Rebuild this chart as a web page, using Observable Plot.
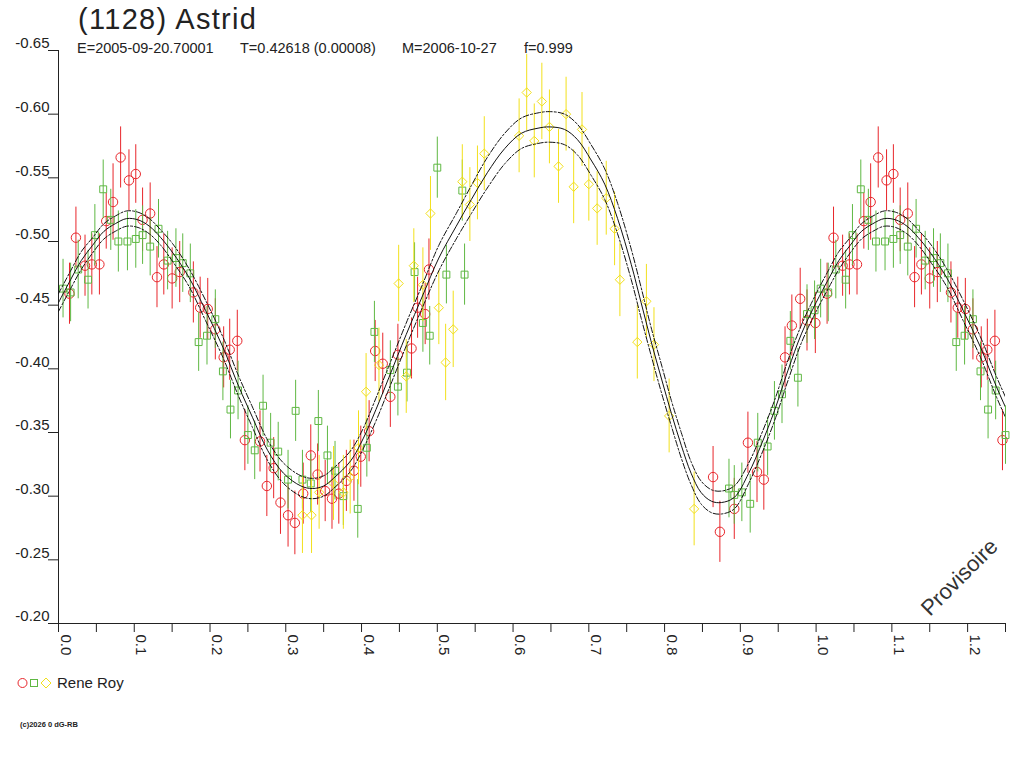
<!DOCTYPE html>
<html>
<head>
<meta charset="utf-8">
<script src="https://cdn.jsdelivr.net/npm/d3@7"></script>
<script src="https://cdn.jsdelivr.net/npm/@observablehq/plot@0.6"></script>
<style>
html, body { margin: 0; padding: 0; background: #fff; overflow: hidden; }
#wrap { position: relative; width: 1024px; height: 768px; font-family: "Liberation Sans", Arial, sans-serif; color: #222; }
#chart { position: absolute; left: 0; top: 0; }
.abs { position: absolute; white-space: pre; line-height: 1; }
</style>
</head>
<body>
<div id="wrap">
  <div id="chart"></div>
  <div class="abs" id="title" style="left:78px; top:5px; font-size:29px; letter-spacing:1.3px;"></div>
  <div id="sub"></div>
  <div class="abs" id="legend" style="left:0px; top:674px; height:18px; width:200px;"></div>
  <div class="abs" id="footer" style="left:20px; top:721px; font-size:7.5px; font-weight:bold;"></div>
</div>
<script>
// ---- texts ----
const titleText = "(1128) Astrid";
const subtitleParts = ["E=2005-09-20.70001", "T=0.42618 (0.00008)", "M=2006-10-27", "f=0.999"];
const subtitleX = [77, 240, 402, 524];
const legendName = "Rene Roy";
const footerText = "(c)2026 0 dG-RB";
const watermark = "Provisoire";

// ---- axes ----
const xTickValues = [0,0.05,0.1,0.15,0.2,0.25,0.3,0.35,0.4,0.45,0.5,0.55,0.6,0.65,0.7,0.75,0.8,0.85,0.9,0.95,1.0,1.05,1.1,1.15,1.2,1.25];
const xLabelValues = [0,0.1,0.2,0.3,0.4,0.5,0.6,0.7,0.8,0.9,1.0,1.1,1.2];
const xLabels = ["0.0","0.1","0.2","0.3","0.4","0.5","0.6","0.7","0.8","0.9","1.0","1.1","1.2"];
const yTickValues = [-0.65,-0.60,-0.55,-0.50,-0.45,-0.40,-0.35,-0.30,-0.25,-0.20];
const yLabels = ["-0.65","-0.60","-0.55","-0.50","-0.45","-0.40","-0.35","-0.30","-0.25","-0.20"];

// ---- observations (phase, magnitude, error) ----
const redPhase = [0.0145,0.023,0.035,0.044,0.054,0.063,0.072,0.082,0.093,0.102,0.111,0.121,0.130,0.139,0.150,0.160,0.178,0.187,0.197,0.207,0.218,0.226,0.236,0.246,0.266,0.275,0.284,0.293,0.303,0.312,0.323,0.333,0.342,0.352,0.361,0.370,0.380,0.390,0.399,0.410,0.418,0.428,0.438,0.448,0.466,0.474,0.484,0.489,0.864,0.873,0.892,0.910,0.922,0.931,0.959,0.968,0.979,0.988,0.999];
const redMag = [-0.459,-0.503,-0.481,-0.482,-0.482,-0.516,-0.531,-0.566,-0.548,-0.553,-0.517,-0.522,-0.472,-0.482,-0.471,-0.476,-0.460,-0.448,-0.447,-0.431,-0.409,-0.415,-0.422,-0.344,-0.343,-0.308,-0.322,-0.295,-0.285,-0.279,-0.302,-0.332,-0.317,-0.304,-0.298,-0.302,-0.312,-0.320,-0.331,-0.351,-0.414,-0.404,-0.378,-0.411,-0.416,-0.448,-0.443,-0.478,-0.315,-0.272,-0.290,-0.342,-0.319,-0.313,-0.409,-0.434,-0.455,-0.438,-0.436];
const redErr = [0.024,0.024,0.024,0.024,0.024,0.022,0.030,0.024,0.024,0.023,0.025,0.024,0.024,0.024,0.024,0.024,0.024,0.024,0.024,0.024,0.024,0.024,0.024,0.024,0.024,0.024,0.024,0.025,0.025,0.025,0.024,0.024,0.024,0.024,0.024,0.024,0.024,0.024,0.024,0.024,0.024,0.024,0.024,0.024,0.024,0.024,0.024,0.024,0.024,0.024,0.024,0.024,0.024,0.024,0.024,0.024,0.024,0.024,0.024];

const greenPhase = [0.006,0.016,0.026,0.039,0.048,0.059,0.069,0.079,0.091,0.102,0.111,0.121,0.132,0.144,0.155,0.164,0.174,0.185,0.196,0.207,0.217,0.227,0.237,0.250,0.259,0.270,0.280,0.290,0.303,0.313,0.322,0.333,0.343,0.355,0.365,0.376,0.395,0.407,0.417,0.438,0.448,0.460,0.470,0.481,0.490,0.500,0.512,0.533,0.536,0.885,0.892,0.902,0.913,0.923,0.936,0.945,0.955,0.966,0.976,0.988,0.998];
const greenMag = [-0.463,-0.460,-0.478,-0.470,-0.505,-0.541,-0.517,-0.500,-0.500,-0.502,-0.505,-0.496,-0.510,-0.485,-0.487,-0.483,-0.475,-0.421,-0.426,-0.439,-0.398,-0.368,-0.383,-0.348,-0.336,-0.371,-0.342,-0.335,-0.313,-0.367,-0.313,-0.310,-0.359,-0.332,-0.320,-0.300,-0.290,-0.338,-0.429,-0.399,-0.386,-0.397,-0.476,-0.436,-0.426,-0.558,-0.474,-0.540,-0.474,-0.306,-0.301,-0.303,-0.294,-0.342,-0.339,-0.367,-0.380,-0.422,-0.393,-0.443,-0.446];
const greenErr = [0.023,0.023,0.023,0.023,0.024,0.023,0.024,0.024,0.023,0.023,0.023,0.023,0.023,0.023,0.023,0.023,0.023,0.023,0.023,0.023,0.023,0.023,0.023,0.023,0.023,0.024,0.023,0.023,0.023,0.024,0.023,0.023,0.024,0.023,0.023,0.023,0.023,0.023,0.024,0.023,0.023,0.023,0.023,0.023,0.023,0.024,0.023,0.024,0.024,0.023,0.023,0.023,0.023,0.023,0.023,0.023,0.023,0.023,0.023,0.023,0.023];

const yellowPhase = [0.322,0.334,0.344,0.363,0.376,0.385,0.396,0.406,0.423,0.449,0.459,0.469,0.481,0.491,0.502,0.511,0.521,0.533,0.543,0.553,0.562,0.608,0.618,0.628,0.638,0.648,0.660,0.670,0.680,0.691,0.700,0.711,0.723,0.734,0.741,0.764,0.776,0.786,0.806,0.839];
const yellowMag = [-0.285,-0.285,-0.303,-0.310,-0.303,-0.315,-0.338,-0.382,-0.403,-0.467,-0.394,-0.481,-0.466,-0.522,-0.448,-0.405,-0.431,-0.547,-0.529,-0.546,-0.569,-0.583,-0.617,-0.579,-0.610,-0.590,-0.559,-0.600,-0.543,-0.588,-0.545,-0.526,-0.534,-0.510,-0.470,-0.421,-0.453,-0.419,-0.363,-0.290];
const yellowErr = [0.030,0.030,0.029,0.029,0.029,0.029,0.029,0.030,0.029,0.030,0.029,0.029,0.029,0.029,0.029,0.030,0.030,0.029,0.029,0.029,0.029,0.029,0.030,0.029,0.030,0.029,0.029,0.029,0.029,0.029,0.029,0.029,0.029,0.029,0.029,0.029,0.029,0.029,0.029,0.029];

// ---- fitted lightcurve (phase, mag, envelope half-width) ----
const fitPhase = [0.000,0.016,0.030,0.045,0.060,0.075,0.090,0.105,0.120,0.135,0.151,0.172,0.194,0.217,0.238,0.256,0.276,0.297,0.320,0.335,0.350,0.363,0.386,0.402,0.419,0.436,0.459,0.481,0.502,0.525,0.545,0.566,0.589,0.611,0.633,0.648,0.668,0.685,0.703,0.721,0.738,0.756,0.769,0.782,0.796,0.809,0.822,0.835,0.848,0.862,0.875,0.892,0.911,0.928,0.945,0.963,0.981,1.000];
const fitMag = [-0.452,-0.470,-0.485,-0.497,-0.508,-0.514,-0.518,-0.517,-0.512,-0.503,-0.491,-0.472,-0.446,-0.417,-0.386,-0.362,-0.336,-0.318,-0.308,-0.306,-0.308,-0.314,-0.328,-0.345,-0.368,-0.393,-0.427,-0.458,-0.487,-0.512,-0.533,-0.554,-0.573,-0.585,-0.589,-0.590,-0.588,-0.580,-0.564,-0.545,-0.518,-0.482,-0.452,-0.422,-0.392,-0.365,-0.340,-0.318,-0.303,-0.296,-0.295,-0.299,-0.318,-0.341,-0.367,-0.399,-0.428,-0.452];
const fitSpread = [0.007,0.007,0.007,0.006,0.006,0.006,0.006,0.006,0.006,0.006,0.007,0.007,0.008,0.008,0.008,0.008,0.008,0.008,0.008,0.008,0.008,0.008,0.008,0.008,0.009,0.009,0.009,0.009,0.010,0.010,0.011,0.012,0.012,0.012,0.012,0.012,0.012,0.012,0.012,0.012,0.012,0.012,0.012,0.011,0.011,0.010,0.010,0.009,0.009,0.009,0.009,0.009,0.008,0.008,0.008,0.008,0.007,0.007];

// ---- colours ----
const red = "#e8262b", green = "#5fb843", yellow = "#f2e01c";

// ---- build tables (phase repeated past 1.0 up to 1.25) ----
function obsRows(phase, mag, err) {
  const out = [];
  phase.forEach((p, i) => {
    const d = {phase: p, mag: mag[i], err: err[i]};
    out.push(d);
    if (p <= 0.25) out.push({phase: p + 1, mag: mag[i], err: err[i]});
  });
  return out;
}
const redRows = obsRows(redPhase, redMag, redErr);
const greenRows = obsRows(greenPhase, greenMag, greenErr);
const yellowRows = obsRows(yellowPhase, yellowMag, yellowErr);

const fitRows = [];
fitPhase.forEach((p, i) => fitRows.push({phase: p, mag: fitMag[i], s: fitSpread[i]}));
fitPhase.forEach((p, i) => { if (p > 0 && p < 0.3) fitRows.push({phase: p + 1, mag: fitMag[i], s: fitSpread[i]}); });
fitRows.sort((a, b) => a.phase - b.phase);

const squareSym = {draw(ctx, size) { const h = Math.sqrt(size) / 2; ctx.moveTo(-h, -h); ctx.lineTo(h, -h); ctx.lineTo(h, h); ctx.lineTo(-h, h); ctx.closePath(); }};
const diamondSym = {draw(ctx, size) { const h = Math.sqrt(size / 2); ctx.moveTo(0, -h); ctx.lineTo(h, 0); ctx.lineTo(0, h); ctx.lineTo(-h, 0); ctx.closePath(); }};

function obsMarks(rows, color, symbol, r) {
  return [
    Plot.ruleX(rows, {x: "phase", y1: d => d.mag - d.err, y2: d => d.mag + d.err, stroke: color, strokeWidth: 1}),
    Plot.dot(rows, {x: "phase", y: "mag", symbol, r, stroke: color, fill: "none", strokeWidth: 1})
  ];
}

const yTickRows = yTickValues.map((v, i) => ({v, t: yLabels[i]}));
const xLabelRows = xLabelValues.map((v, i) => ({v, t: xLabels[i]}));

const chart = Plot.plot({
  width: 1024,
  height: 768,
  marginLeft: 58,
  marginRight: 19,
  marginTop: 50,
  marginBottom: 145,
  x: {domain: [0, 1.25]},
  y: {domain: [-0.20, -0.65]},
  style: {fontFamily: '"Liberation Sans", Arial, sans-serif', fontSize: "15px", color: "#222", background: "#fff"},
  marks: [
    Plot.ruleX([0], {stroke: "#222"}),
    Plot.ruleY([-0.20], {stroke: "#222"}),
    Plot.axisX({ticks: xTickValues, tickSize: 9, tickFormat: () => "", label: null, stroke: "#222"}),
    Plot.axisY({ticks: yTickValues, tickSize: 10, tickFormat: () => "", label: null, stroke: "#222"}),
    Plot.text(yTickRows, {y: "v", text: "t", frameAnchor: "left", dx: -9, dy: -7, textAnchor: "end", fontSize: 15, fill: "#222"}),
    Plot.text(xLabelRows, {x: "v", text: "t", frameAnchor: "bottom", dy: 11, dx: 7, rotate: 90, textAnchor: "start", lineAnchor: "middle", fontSize: 15, fill: "#222"}),
    Plot.text([watermark], {frameAnchor: "bottom-right", dx: -46, dy: -46, rotate: -45, fontSize: 22, fill: "#333", textAnchor: "middle", lineAnchor: "middle"}),
    ...obsMarks(redRows, red, "circle", 4.7),
    ...obsMarks(greenRows, green, squareSym, 3.9),
    ...obsMarks(yellowRows, yellow, diamondSym, 3.7),
    Plot.line(fitRows, {x: "phase", y: d => d.mag - d.s, stroke: "#111", strokeWidth: 1, strokeDasharray: "6,2,2,2", curve: "catmull-rom", clip: true}),
    Plot.line(fitRows, {x: "phase", y: d => d.mag + d.s, stroke: "#111", strokeWidth: 1, strokeDasharray: "6,2,2,2", curve: "catmull-rom", clip: true}),
    Plot.line(fitRows, {x: "phase", y: "mag", stroke: "#111", strokeWidth: 1, curve: "catmull-rom", clip: true})
  ]
});
document.getElementById("chart").appendChild(chart);

// ---- title, subtitle, legend, footer ----
document.getElementById("title").textContent = titleText;
const sub = document.getElementById("sub");
subtitleParts.forEach((t, i) => {
  const s = document.createElement("div");
  s.className = "abs";
  s.style.left = subtitleX[i] + "px";
  s.style.top = "41px";
  s.style.fontSize = "14.5px";
  s.textContent = t;
  sub.appendChild(s);
});
document.getElementById("legend").innerHTML =
  '<svg width="56" height="18" style="position:absolute;left:0;top:0">' +
  '<circle cx="22.5" cy="9" r="4.5" fill="none" stroke="' + red + '"/>' +
  '<rect x="30.5" y="5.5" width="7" height="7" fill="none" stroke="' + green + '"/>' +
  '<path d="M46,4 L51,9 L46,14 L41,9 Z" fill="none" stroke="' + yellow + '"/>' +
  '</svg><span style="position:absolute;left:57px;top:1px;font-size:15px;">' + legendName + '</span>';
document.getElementById("footer").textContent = footerText;
</script>
</body>
</html>
